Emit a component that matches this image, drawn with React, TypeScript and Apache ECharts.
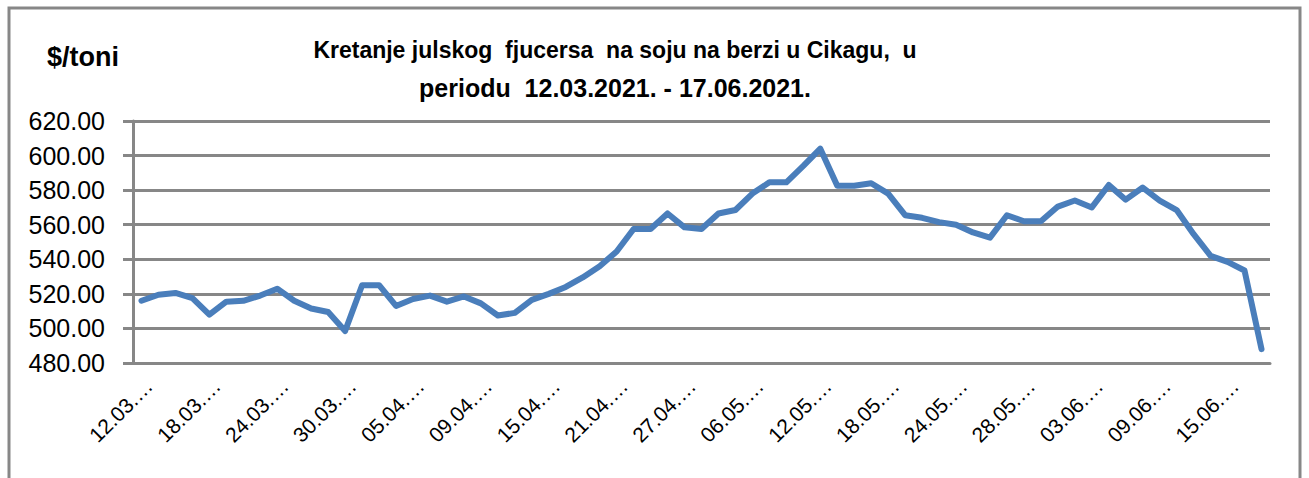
import React, { useEffect, useRef } from "react";
import * as echarts from "echarts";

const dates: string[] = [
  "12.03.2021.", "15.03.2021.", "16.03.2021.", "17.03.2021.", "18.03.2021.", "19.03.2021.",
  "22.03.2021.", "23.03.2021.", "24.03.2021.", "25.03.2021.", "26.03.2021.", "29.03.2021.",
  "30.03.2021.", "31.03.2021.", "01.04.2021.", "02.04.2021.", "05.04.2021.", "06.04.2021.",
  "07.04.2021.", "08.04.2021.", "09.04.2021.", "12.04.2021.", "13.04.2021.", "14.04.2021.",
  "15.04.2021.", "16.04.2021.", "19.04.2021.", "20.04.2021.", "21.04.2021.", "22.04.2021.",
  "23.04.2021.", "26.04.2021.", "27.04.2021.", "28.04.2021.", "29.04.2021.", "05.05.2021.",
  "06.05.2021.", "07.05.2021.", "10.05.2021.", "11.05.2021.", "12.05.2021.", "13.05.2021.",
  "14.05.2021.", "17.05.2021.", "18.05.2021.", "19.05.2021.", "20.05.2021.", "21.05.2021.",
  "24.05.2021.", "25.05.2021.", "26.05.2021.", "27.05.2021.", "28.05.2021.", "31.05.2021.",
  "01.06.2021.", "02.06.2021.", "03.06.2021.", "04.06.2021.", "07.06.2021.", "08.06.2021.",
  "09.06.2021.", "10.06.2021.", "11.06.2021.", "14.06.2021.", "15.06.2021.", "16.06.2021.",
  "17.06.2021.",
];

const prices: number[] = [
  516, 519.5, 520.5, 517.5, 508, 515.5,
  516, 519, 523, 516, 511.5, 509.5,
  498.5, 525, 525, 513, 517, 519,
  515.5, 518.5, 514.5, 507.5, 509, 516.5,
  520, 524, 529.5, 536, 544.5, 557.5,
  557.5, 566.5, 558.5, 557.5, 566.5, 568.5,
  578, 584.5, 584.5, 594, 604, 582.5,
  582.5, 584, 578, 565.5, 564, 561.5,
  560, 555.5, 552.5, 565.5, 562, 562,
  570.5, 574, 570, 583, 574.5, 581.5,
  574, 568.5, 554.5, 542, 538.5, 533.5,
  488,
];

const yTicks = { min: 480, max: 620, step: 20 };

const titleLine1 = "Kretanje julskog  fjucersa  na soju na berzi u Cikagu,  u";
const titleLine2 = "periodu  12.03.2021. - 17.06.2021.";
const unitLabel = "$/toni";

export default function App() {
  const ref = useRef<HTMLDivElement>(null);

  useEffect(() => {
    if (!ref.current) return;
    const chart = echarts.init(ref.current, undefined, { renderer: "svg" });
    const gray = "#878787";
    chart.setOption({
      animation: false,
      backgroundColor: "#ffffff",
      textStyle: { fontFamily: "Liberation Sans" },
      grid: { left: 133, right: 39, top: 121, bottom: 115, containLabel: false },
      graphic: [
        {
          type: "rect",
          z: -10,
          shape: { x: 9, y: 8, width: 1291, height: 520 },
          style: { fill: "none", stroke: gray, lineWidth: 3 },
        },
        {
          type: "text",
          x: 615,
          y: 50,
          style: {
            text: titleLine1,
            align: "center",
            verticalAlign: "middle",
            font: "bold 23px 'Liberation Sans'",
            fill: "#000",
          },
        },
        {
          type: "text",
          x: 615,
          y: 88,
          style: {
            text: titleLine2,
            align: "center",
            verticalAlign: "middle",
            font: "bold 25px 'Liberation Sans'",
            fill: "#000",
          },
        },
        {
          type: "text",
          x: 83,
          y: 57,
          style: {
            text: unitLabel,
            align: "center",
            verticalAlign: "middle",
            font: "bold 27px 'Liberation Sans'",
            fill: "#000",
          },
        },
      ],
      xAxis: {
        type: "category",
        data: dates,
        boundaryGap: true,
        axisLine: { show: true, lineStyle: { color: gray, width: 3 } },
        axisTick: { show: false },
        splitLine: { show: false },
        axisLabel: {
          interval: 3,
          rotate: 45,
          margin: 12,
          align: "right",
          verticalAlign: "top",
          fontSize: 21,
          color: "#000",
          fontFamily: "Liberation Sans",
          formatter: (v: string) => v.slice(0, 6) + "…",
        },
      },
      yAxis: {
        type: "value",
        min: yTicks.min,
        max: yTicks.max,
        interval: yTicks.step,
        axisLine: { show: true, lineStyle: { color: gray, width: 3 } },
        axisTick: { show: true, length: 10, lineStyle: { color: gray, width: 3 } },
        splitLine: { show: true, lineStyle: { color: gray, width: 3 } },
        axisLabel: {
          margin: 28,
          fontSize: 25,
          color: "#000",
          fontFamily: "Liberation Sans",
          formatter: (v: number) => v.toFixed(2),
        },
      },
      series: [
        {
          type: "line",
          data: prices,
          showSymbol: false,
          symbol: "none",
          lineStyle: { color: "#4a7ebb", width: 6, join: "round", cap: "round" },
          itemStyle: { color: "#4a7ebb" },
        },
      ],
    });
    return () => chart.dispose();
  }, []);

  return (
    <div
      ref={ref}
      style={{ position: "fixed", left: 0, top: 0, width: 1309, height: 478 }}
    />
  );
}
